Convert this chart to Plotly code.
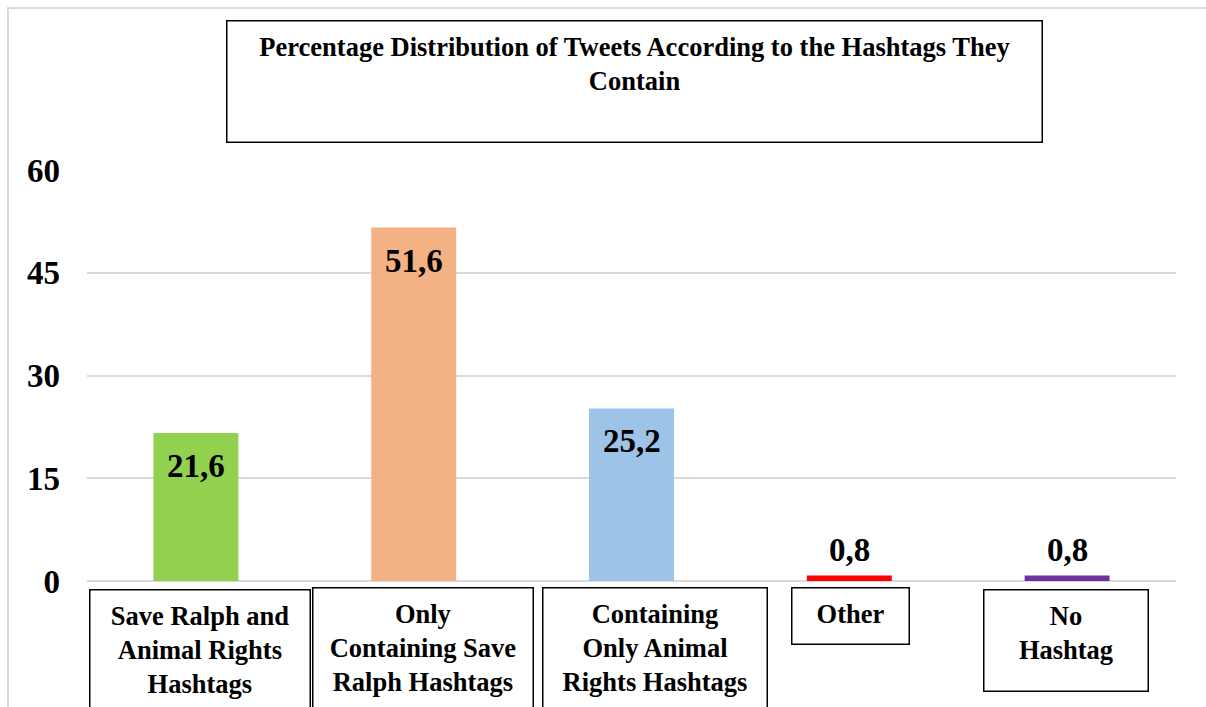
import plotly.graph_objects as go

categories = ["Save Ralph and<br>Animal Rights<br>Hashtags",
              "Only<br>Containing Save<br>Ralph Hashtags",
              "Containing<br>Only Animal<br>Rights Hashtags",
              "Other",
              "No<br>Hashtag"]
values = [21.6, 51.6, 25.2, 0.8, 0.8]
bar_colors = ["#92d050", "#f4b183", "#9dc3e6", "#ff0000", "#7030a0"]
y_ticks = [0, 15, 30, 45, 60]
title_text = "Percentage Distribution of Tweets According to the Hashtags They<br>Contain"

W, H = 1206, 707
L, R, T, B = 87, 30, 170, 126
SERIF = "Liberation Serif, Times New Roman, serif"


def px_x(p):
    return (p - L) / (W - L - R)


def px_y(p):
    return (H - B - p) / (H - T - B)


fig = go.Figure()
fig.add_trace(go.Bar(
    x=list(range(len(values))),
    y=values,
    marker_color=bar_colors,
    marker_line_width=0,
    hoverinfo="y"
))

annotations = []

# value labels
for i, v in enumerate(values):
    big = v > 5
    annotations.append(dict(
        x=i, y=v, xref="x", yref="y",
        text=f"{v:.1f}".replace(".", ","),
        showarrow=False,
        yanchor="middle",
        yshift=-33 if big else 26,
        font=dict(family=SERIF, size=33, color="black", weight="bold")
    ))

# category label boxes (left, top, width, height in px)
boxes = [(89, 589, 222, 131), (312, 587, 222, 133), (542, 587, 226, 133),
         (791, 587, 119, 58), (983, 589, 166, 103)]
pad, bw = 10, 1.5
for cat, (bx, by, bwid, bh) in zip(categories, boxes):
    annotations.append(dict(
        x=px_x(bx), y=px_y(by), xref="paper", yref="paper",
        xanchor="left", yanchor="top",
        text=cat, showarrow=False,
        width=bwid - 2 * (pad + bw), height=bh - 2 * (pad + bw),
        valign="top", align="center",
        bordercolor="black", borderwidth=bw, borderpad=pad,
        bgcolor="white",
        font=dict(family=SERIF, size=26.5, color="black", weight="bold")
    ))

# title box
annotations.append(dict(
    x=px_x(226), y=px_y(20), xref="paper", yref="paper",
    xanchor="left", yanchor="top",
    text=title_text, showarrow=False,
    width=817 - 2 * (pad + bw), height=123 - 2 * (pad + bw),
    valign="top", align="center",
    bordercolor="black", borderwidth=bw, borderpad=pad,
    bgcolor="white",
    font=dict(family=SERIF, size=26.5, color="black", weight="bold")
))

fig.update_layout(
    width=W, height=H,
    margin=dict(l=L, r=R, t=T, b=B),
    paper_bgcolor="white",
    plot_bgcolor="white",
    showlegend=False,
    bargap=0.61,
    annotations=annotations,
    xaxis=dict(
        range=[-0.5, len(values) - 0.5],
        showticklabels=False, showgrid=False, zeroline=False,
        showline=False, ticks=""
    ),
    yaxis=dict(
        range=[0, 60],
        tickvals=y_ticks,
        showgrid=True, gridcolor="#d9d9d9", gridwidth=2,
        zeroline=True, zerolinecolor="#d9d9d9", zerolinewidth=2,
        showline=False, ticks="",
        ticklabelstandoff=26,
        tickfont=dict(family=SERIF, size=33, color="black", weight="bold")
    ),
    shapes=[dict(
        type="rect", xref="paper", yref="paper",
        x0=px_x(8), x1=px_x(1220), y0=px_y(8), y1=px_y(730),
        line=dict(color="#d9d9d9", width=2), layer="below"
    )]
)

fig.write_html("out.html", config={"displayModeBar": False},
               post_script="document.body.style.margin='0';")
